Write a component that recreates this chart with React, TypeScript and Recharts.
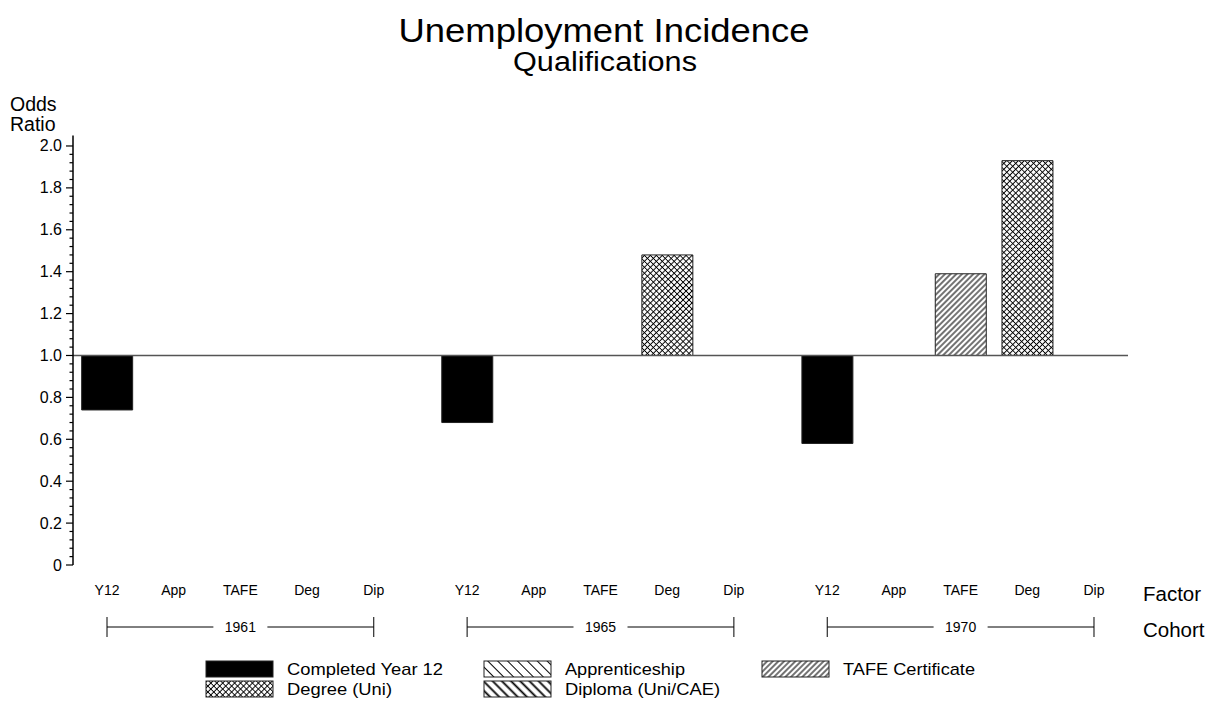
import { BarChart, Bar, XAxis, YAxis, ReferenceLine, Cell } from 'recharts';

const COHORTS = ['1961', '1965', '1970'];
const FACTORS = ['Y12', 'App', 'TAFE', 'Deg', 'Dip'];
// odds ratio per cohort, one array per qualification
const Y12_RATIO = [0.74, 0.68, 0.58];
const APP_RATIO = [1.0, 1.0, 1.0];
const TAFE_RATIO = [1.0, 1.0, 1.39];
const DEG_RATIO = [1.0, 1.48, 1.93];
const DIP_RATIO = [1.0, 1.0, 1.0];
const Y_TICK_LABELS = ['0', '0.2', '0.4', '0.6', '0.8', '1.0', '1.2', '1.4', '1.6', '1.8', '2.0'];
const LEGEND_LABELS = ['Completed Year 12', 'Apprenticeship', 'TAFE Certificate', 'Degree (Uni)', 'Diploma (Uni/CAE)'];

const SERIES = [Y12_RATIO, APP_RATIO, TAFE_RATIO, DEG_RATIO, DIP_RATIO];
const BASE = 1.0;
const COHORT_GAP = 0.4;

const FONT = '"Liberation Sans", Arial, Helvetica, sans-serif';
const W = 1217;
const H = 702;
const PLOT_LEFT = 73;
const PLOT_RIGHT = 1128;
const X_DOMAIN: [number, number] = [-0.51, 15.31];
const UNIT_PX = (PLOT_RIGHT - PLOT_LEFT) / (X_DOMAIN[1] - X_DOMAIN[0]);

const FILLS = ['#000', 'url(#pat-app)', 'url(#pat-tafe)', 'url(#pat-deg)', 'url(#pat-dip)'];

const ROWS = COHORTS.flatMap((cohort, c) =>
  FACTORS.map((factor, f) => ({
    x: c * (FACTORS.length + COHORT_GAP) + f,
    cohort,
    factor,
    f,
    ratio: SERIES[f][c],
  }))
);
const X_TICKS = ROWS.map(r => r.x);
const Y_TICKS = Array.from({ length: 51 }, (_, i) => (i * 4) / 100);

const barRange = (d: { ratio: number }) => [Math.min(BASE, d.ratio), Math.max(BASE, d.ratio)];

function OddsTick(props: any) {
  const { x, y, index } = props;
  const major = index % 5 === 0;
  return (
    <g>
      <line x1={x - (major ? 7 : 3.5)} x2={x} y1={y} y2={y} stroke="#000" strokeWidth={1.2} />
      {major && (
        <text x={x - 11} y={y} textAnchor="end" dominantBaseline="central" fontSize={16} fontFamily={FONT} fill="#000">
          {Y_TICK_LABELS[index / 5]}
        </text>
      )}
    </g>
  );
}

function FactorTick(props: any) {
  const { x, y, index } = props;
  const f = index % FACTORS.length;
  const c = Math.floor(index / FACTORS.length);
  const half = 2 * UNIT_PX;
  const by = y + 62;
  return (
    <g>
      <text x={x} y={y + 25} textAnchor="middle" dominantBaseline="central" fontSize={14} fontFamily={FONT} fill="#000">
        {FACTORS[f]}
      </text>
      {f === 2 && (
        <g stroke="#000" strokeWidth={1}>
          <line x1={x - half} x2={x - 27} y1={by} y2={by} />
          <line x1={x + 27} x2={x + half} y1={by} y2={by} />
          <line x1={x - half} x2={x - half} y1={by - 10} y2={by + 10} />
          <line x1={x + half} x2={x + half} y1={by - 10} y2={by + 10} />
          <text x={x} y={by} textAnchor="middle" dominantBaseline="central" fontSize={14} fontFamily={FONT} fill="#000" stroke="none">
            {COHORTS[c]}
          </text>
        </g>
      )}
    </g>
  );
}

function Patterns() {
  return (
    <defs>
      <pattern id="pat-deg" width="4.2" height="4.2" patternUnits="userSpaceOnUse" patternTransform="rotate(45)">
        <rect width="4.2" height="4.2" fill="#fff" />
        <path d="M2.1,0 V4.2 M0,2.1 H4.2" stroke="#000" strokeWidth="1" />
      </pattern>
      <pattern id="pat-tafe" width="4" height="4" patternUnits="userSpaceOnUse" patternTransform="rotate(45)">
        <rect width="4" height="4" fill="#fff" />
        <path d="M2,0 V4" stroke="#000" strokeWidth="1.1" />
      </pattern>
      <pattern id="pat-app" width="7" height="7" patternUnits="userSpaceOnUse" patternTransform="rotate(-45)">
        <rect width="7" height="7" fill="#fff" />
        <path d="M3.5,0 V7" stroke="#000" strokeWidth="1" />
      </pattern>
      <pattern id="pat-dip" width="6.5" height="6.5" patternUnits="userSpaceOnUse" patternTransform="rotate(-45)">
        <rect width="6.5" height="6.5" fill="#fff" />
        <path d="M3.25,0 V6.5" stroke="#000" strokeWidth="1.8" />
      </pattern>
    </defs>
  );
}

const LEGEND_COL_X = [206, 484, 762];
const LEGEND_ROW_Y = [661, 681];
const LEGEND_TEXT_W = [156, 120, 132, 105, 155];

export default function App() {
  return (
    <div style={{ position: 'absolute', left: 0, top: 0, width: W, height: H, background: '#fff' }}>
      <div style={{ position: 'absolute', left: 0, top: 0 }}>
        <BarChart width={W} height={H} data={ROWS} margin={{ top: 135.5, right: W - PLOT_RIGHT, bottom: 57, left: 13 }}>
          <XAxis
            dataKey="x"
            type="number"
            domain={X_DOMAIN}
            ticks={X_TICKS}
            interval={0}
            axisLine={false}
            tickLine={false}
            tickSize={0}
            tickMargin={0}
            height={80}
            tick={(p: any) => <FactorTick {...p} />}
          />
          <YAxis
            type="number"
            domain={[0, 2.05]}
            allowDataOverflow
            ticks={Y_TICKS}
            interval={0}
            width={60}
            tickLine={false}
            tickSize={0}
            tickMargin={0}
            axisLine={{ stroke: '#000', strokeWidth: 1.5 }}
            tick={(p: any) => <OddsTick {...p} />}
          />
          <Bar dataKey={barRange} barSize={51} isAnimationActive={false}>
            {ROWS.map(r => (
              <Cell key={r.x} fill={FILLS[r.f]} stroke="#222" strokeWidth={1} />
            ))}
          </Bar>
          <ReferenceLine y={BASE} stroke="#555" strokeWidth={1.5} />
        </BarChart>
      </div>
      <svg width={W} height={H} style={{ position: 'absolute', left: 0, top: 0, pointerEvents: 'none' }}>
        <Patterns />
        <g fontFamily={FONT} fill="#000">
          <text x={604} y={42} textAnchor="middle" fontSize={34} textLength={411} lengthAdjust="spacingAndGlyphs">
            Unemployment Incidence
          </text>
          <text x={605} y={71} textAnchor="middle" fontSize={27} textLength={184} lengthAdjust="spacingAndGlyphs">
            Qualifications
          </text>
          <text x={10} y={111} fontSize={19.5}>Odds</text>
          <text x={10} y={131} fontSize={19.5}>Ratio</text>
          <text x={1143} y={601} fontSize={20.5}>Factor</text>
          <text x={1143} y={637} fontSize={20.5}>Cohort</text>
          {LEGEND_LABELS.map((label, i) => {
            const lx = LEGEND_COL_X[i % 3];
            const ly = LEGEND_ROW_Y[Math.floor(i / 3)];
            return (
              <g key={label}>
                <rect x={lx} y={ly} width={67} height={16} fill={FILLS[i]} stroke="#222" strokeWidth={1} />
                <text x={lx + 81} y={ly + 14} fontSize={17} textLength={LEGEND_TEXT_W[i]} lengthAdjust="spacingAndGlyphs">
                  {label}
                </text>
              </g>
            );
          })}
        </g>
      </svg>
    </div>
  );
}
